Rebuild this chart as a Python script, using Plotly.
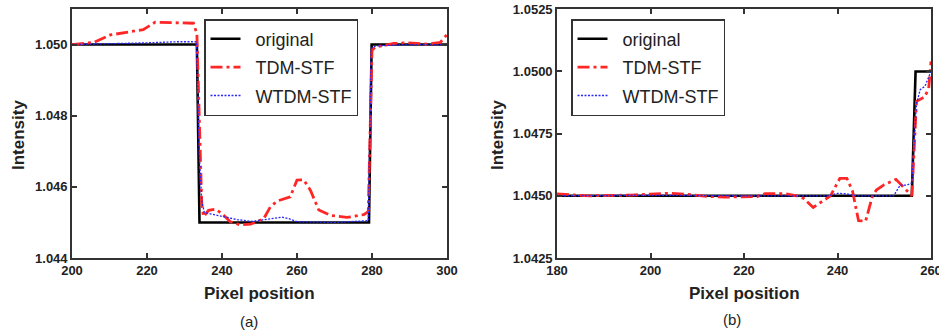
import plotly.graph_objects as go

# ---------------- Panel (a) data ----------------
a_orig_x = [200, 233.3, 234.0, 279.2, 279.9, 300]
a_orig_y = [1.0500, 1.0500, 1.0450, 1.0450, 1.0500, 1.0500]

a_tdm_x = [200, 203, 205.8, 210.2, 214.7, 219.0, 222.2, 226, 230, 232.4, 233.3, 234.0,
           234.6, 235.1, 236.4, 238.2, 240.0, 242.2, 244.9, 247.6, 251.1, 252.9, 254.7,
           258.2, 260.0, 261.8, 263.6, 265.8, 268.9, 273.3, 277.8, 279.0, 280.0, 280.9,
           285.8, 289.3, 294.7, 298.2, 300]
a_tdm_y = [1.05000, 1.05003, 1.05006, 1.05027, 1.05034, 1.05042, 1.05063, 1.05062, 1.05061,
           1.05060, 1.05030, 1.04750, 1.04550, 1.04516, 1.04534, 1.04537, 1.04525, 1.04502,
           1.04493, 1.04495, 1.04510, 1.04544, 1.04560, 1.04572, 1.04619, 1.04620, 1.04590,
           1.04535, 1.04520, 1.04514, 1.04522, 1.04530, 1.04984, 1.04993, 1.05003, 1.05005,
           1.05001, 1.05006, 1.05028]

a_wtdm_x = [200, 210, 220, 228, 233.2, 233.9, 234.6, 235.3, 236.5, 240, 244, 248, 252,
            256, 258, 260, 270, 279.0, 279.8, 281, 285, 290, 300]
a_wtdm_y = [1.05000, 1.05002, 1.05005, 1.05008, 1.05008, 1.04700, 1.04560, 1.04528,
            1.04525, 1.04518, 1.04508, 1.04503, 1.04508, 1.04515, 1.04510, 1.04502,
            1.04500, 1.04505, 1.04990, 1.04996, 1.04998, 1.05000, 1.05000]

# ---------------- Panel (b) data ----------------
b_orig_x = [180, 255.9, 256.7, 260]
b_orig_y = [1.0450, 1.0450, 1.0500, 1.0500]

b_tdm_x = [180, 182, 184, 187, 192, 196, 200, 204, 208, 212, 216, 220, 222.8, 224.5,
           227, 229, 231.3, 232.7, 234.8, 236.5, 238.5, 240.5, 242.0, 243.2, 244.5,
           246.0, 247.5, 248.3, 250.0, 252.5, 254.1, 255.9, 256.9, 258.6, 259.5, 260]
b_tdm_y = [1.04508, 1.04507, 1.04503, 1.04500, 1.04500, 1.04503, 1.04507, 1.04510,
           1.04506, 1.04498, 1.04495, 1.04495, 1.04497, 1.04509, 1.04510, 1.04508,
           1.04500, 1.04490, 1.04453, 1.04475, 1.04500, 1.04570, 1.04570, 1.04520,
           1.04400, 1.04398, 1.04500, 1.04523, 1.04545, 1.04566, 1.04536, 1.04500,
           1.04880, 1.04897, 1.04930, 1.05040]

b_wtdm_x = [180, 200, 220, 238, 240, 242, 244, 252.0, 253.4, 254.8, 255.9, 256.9,
            257.7, 258.7, 260]
b_wtdm_y = [1.04500, 1.04502, 1.04500, 1.04500, 1.04510, 1.04508, 1.04500, 1.04500,
            1.04543, 1.04543, 1.04552, 1.04870, 1.04927, 1.04940, 1.05000]

a_xticks = [200, 220, 240, 260, 280, 300]
a_yticks = [1.044, 1.046, 1.048, 1.050]
a_yticklabels = ["1.044", "1.046", "1.048", "1.050"]
b_xticks = [180, 200, 220, 240, 260]
b_yticks = [1.0425, 1.0450, 1.0475, 1.0500, 1.0525]
b_yticklabels = ["1.0425", "1.0450", "1.0475", "1.0500", "1.0525"]

names = ["original", "TDM-STF", "WTDM-STF"]

BLACK = "#000000"
RED = "#FF2626"
BLUE = "#2626FF"

W, H = 939, 335


def px(x):
    return x / W


def py(y):
    return 1 - y / H


fig = go.Figure()


def add_panel(xs, ys, xa, ya, legend):
    styles = [
        dict(color=BLACK, width=2.6, dash="solid"),
        dict(color=RED, width=2.8, dash="12px,4px,3px,4px"),
        dict(color=BLUE, width=1.3, dash="2px,1.5px"),
    ]
    for i, (x, y) in enumerate(zip(xs, ys)):
        fig.add_trace(go.Scatter(
            x=x, y=y, mode="lines", name="\u00a0\u00a0" + names[i], line=styles[i],
            xaxis=xa, yaxis=ya, legend=legend, legendgroup=legend + names[i],
        ))


add_panel([a_orig_x, a_tdm_x, a_wtdm_x], [a_orig_y, a_tdm_y, a_wtdm_y], "x", "y", "legend")
add_panel([b_orig_x, b_tdm_x, b_wtdm_x], [b_orig_y, b_tdm_y, b_wtdm_y], "x2", "y2", "legend2")

FONT = "Arial, Liberation Sans, Helvetica, sans-serif"
tickfont = dict(family=FONT, size=13, color="#222222", weight="bold")
axis_common = dict(
    showline=True, linecolor="#333333", linewidth=1.6, mirror="allticks",
    ticks="inside", ticklen=5, tickwidth=1.5, tickcolor="#333333",
    showgrid=False, zeroline=False, tickfont=tickfont, automargin=False,
    ticklabeloverflow="allow",
)

ytop = py(9)
ybot = py(258)

legend_common = dict(
    xanchor="left", yanchor="top",
    bgcolor="white", bordercolor="#333333", borderwidth=1.5,
    font=dict(family=FONT, size=18, color="#222222"),
    tracegroupgap=2, itemwidth=30,
)

fig.update_layout(
    width=W, height=H,
    margin=dict(l=0, r=0, t=0, b=0, autoexpand=False),
    paper_bgcolor="white", plot_bgcolor="white",
    font=dict(family=FONT),
    xaxis=dict(domain=[px(72), px(447)], range=[200, 300], tickvals=a_xticks,
               anchor="y", **axis_common),
    yaxis=dict(domain=[ybot, ytop], range=[1.044, 1.051], tickvals=a_yticks,
               ticktext=a_yticklabels, anchor="x", **axis_common),
    xaxis2=dict(domain=[px(557), px(931)], range=[180, 260], tickvals=b_xticks,
                anchor="y2", **axis_common),
    yaxis2=dict(domain=[ybot, ytop], range=[1.0425, 1.05251], tickvals=b_yticks,
                ticktext=b_yticklabels, anchor="x2", **axis_common),
    legend=dict(x=px(204), y=py(19), **legend_common),
    legend2=dict(x=px(571), y=py(19), **legend_common),
    showlegend=True,
)

ann_font_title = dict(family=FONT, size=17, color="#222222", weight="bold")
ann_font_cap = dict(family=FONT, size=15, color="#222222")
texts = [
    ("Intensity", 18, 135, -90, ann_font_title),
    ("Pixel position", 259, 293, 0, ann_font_title),
    ("(a)", 249, 321, 0, ann_font_cap),
    ("Intensity", 497, 135, -90, ann_font_title),
    ("Pixel position", 744, 293, 0, ann_font_title),
    ("(b)", 732, 319, 0, ann_font_cap),
]
for t, x, y, ang, f in texts:
    fig.add_annotation(text=t, x=px(x), y=py(y), xref="paper", yref="paper",
                       xanchor="center", yanchor="middle", textangle=ang,
                       showarrow=False, font=f)

fig.write_html("out.html", config={"displayModeBar": False},
               post_script="document.body.style.margin='0';")
